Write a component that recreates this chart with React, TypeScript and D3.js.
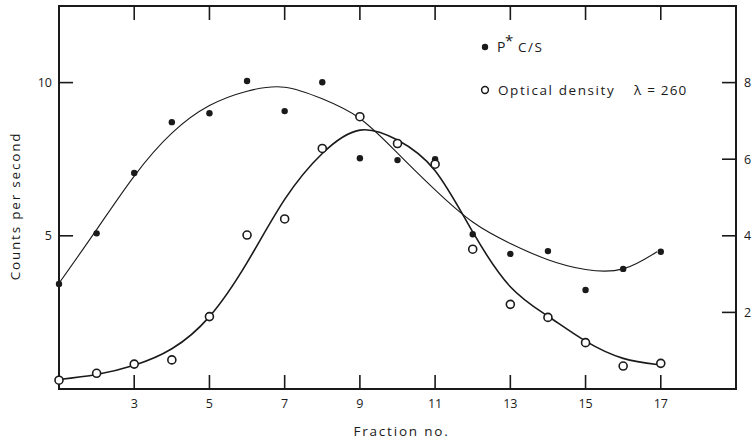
import * as d3 from 'd3';

// fraction number for every measured point
const fractions = [1, 2, 3, 4, 5, 6, 7, 8, 9, 10, 11, 12, 13, 14, 15, 16, 17];
// P* counts per second (left axis, filled dots)
const pCounts = [3.43, 5.08, 7.05, 8.71, 9.0, 10.05, 9.07, 10.01, 7.53, 7.47, 7.5, 5.05, 4.41, 4.5, 3.23, 3.92, 4.48];
// optical density at 260 (right axis, open circles)
const opticalDensity = [0.23, 0.41, 0.65, 0.76, 1.89, 4.02, 4.44, 6.28, 7.11, 6.41, 5.87, 3.65, 2.21, 1.87, 1.21, 0.6, 0.67];

// hand-drawn fitted curves
const pCurveX = [1, 2, 3, 4, 5, 6, 7, 8, 9, 10, 11, 12, 13, 14, 15, 16, 16.9];
const pCurveY = [3.45, 5.2, 6.95, 8.35, 9.25, 9.72, 9.85, 9.47, 8.83, 7.7, 6.5, 5.45, 4.75, 4.22, 3.9, 3.92, 4.48];
const odCurveX = [1, 2, 3, 4, 5, 6, 7, 8, 9, 10, 11, 12, 13, 14, 15, 16, 16.9];
const odCurveY = [0.25, 0.38, 0.62, 1.05, 1.89, 3.3, 4.95, 6.15, 6.76, 6.5, 5.7, 4.1, 2.67, 1.9, 1.25, 0.8, 0.64];

const xTicks = [3, 5, 7, 9, 11, 13, 15, 17];
const leftTicks = [5, 10];
const rightTicks = [2, 4, 6, 8];

const W = 756;
const H = 440;
const m = { top: 6, right: 20, bottom: 51, left: 59 };
const FONT = "'Open Sans', 'Noto Sans', sans-serif";
const INK = '#1a1a1a';

export default function App() {
  const x = d3.scaleLinear().domain([1, 19]).range([m.left, W - m.right]);
  const yL = d3.scaleLinear().domain([0, 12.5]).range([H - m.bottom, m.top]);
  const yR = d3.scaleLinear().domain([0, 10]).range([H - m.bottom, m.top]);

  const pLine = d3.line<number>()
    .x((_, i) => x(pCurveX[i]))
    .y(d => yL(d))
    .curve(d3.curveNatural);
  const odLine = d3.line<number>()
    .x((_, i) => x(odCurveX[i]))
    .y(d => yR(d))
    .curve(d3.curveNatural);

  const x0 = x.range()[0];
  const x1 = x.range()[1];
  const y0 = yL.range()[0];
  const y1 = yL.range()[1];
  const tick = 14;

  return (
    <div style={{ position: 'absolute', left: 0, top: 0 }}>
      <svg width={W} height={H} style={{ display: 'block', background: '#fff' }} fontFamily={FONT}>
        {/* frame */}
        <rect x={x0} y={y1} width={x1 - x0} height={y0 - y1} fill="none" stroke={INK} strokeWidth={2} />

        {/* x ticks, bottom and top, pointing inward */}
        {xTicks.map(t => (
          <g key={t}>
            <line x1={x(t)} x2={x(t)} y1={y0} y2={y0 - tick} stroke={INK} strokeWidth={1.6} />
            <line x1={x(t)} x2={x(t)} y1={y1} y2={y1 + tick} stroke={INK} strokeWidth={1.6} />
            <text x={x(t)} y={y0 + 19} textAnchor="middle" fontSize={12.5} fill={INK}>{t}</text>
          </g>
        ))}

        {leftTicks.map(t => (
          <g key={t}>
            <line x1={x0} x2={x0 + tick} y1={yL(t)} y2={yL(t)} stroke={INK} strokeWidth={1.6} />
            <text x={x0 - 7} y={yL(t) + 4.5} textAnchor="end" fontSize={12.5} fill={INK}>{t}</text>
          </g>
        ))}

        {rightTicks.map(t => (
          <g key={t}>
            <line x1={x1} x2={x1 - tick} y1={yR(t)} y2={yR(t)} stroke={INK} strokeWidth={1.6} />
            <text x={x1 + 8} y={yR(t) + 4.5} textAnchor="start" fontSize={12.5} fill={INK}>{t}</text>
          </g>
        ))}

        {/* axis titles */}
        <text x={(x0 + x1) / 2 + 4} y={436} textAnchor="middle" fontSize={13.5} letterSpacing={1.8} fill={INK}>Fraction no.</text>
        <text transform={`translate(20, 206) rotate(-90)`} textAnchor="middle" fontSize={13.5} letterSpacing={1.8} fill={INK}>Counts per second</text>

        {/* fitted curves */}
        <path d={pLine(pCurveY) ?? ''} fill="none" stroke={INK} strokeWidth={1.1} />
        <path d={odLine(odCurveY) ?? ''} fill="none" stroke={INK} strokeWidth={1.6} />

        {/* points */}
        {fractions.map((f, i) => (
          <circle key={'p' + f} cx={x(f)} cy={yL(pCounts[i])} r={3.2} fill={INK} />
        ))}
        {fractions.map((f, i) => (
          <circle key={'o' + f} cx={x(f)} cy={yR(opticalDensity[i])} r={4} fill="#fff" stroke={INK} strokeWidth={1.6} />
        ))}

        {/* legend */}
        <circle cx={485} cy={47} r={3.2} fill={INK} />
        <text x={497} y={52} fontSize={14} fill={INK}>P</text>
        <text x={505} y={46} fontSize={15} fill={INK}>*</text>
        <text x={518} y={52} fontSize={13.5} letterSpacing={1.5} fill={INK}>C/S</text>
        <circle cx={485} cy={90} r={3.4} fill="#fff" stroke={INK} strokeWidth={1.5} />
        <text x={498} y={95} fontSize={13.5} letterSpacing={1.6} fill={INK}>Optical density</text>
        <text x={634} y={95} fontSize={13.5} letterSpacing={1.2} fill={INK}>λ = 260</text>
      </svg>
    </div>
  );
}
